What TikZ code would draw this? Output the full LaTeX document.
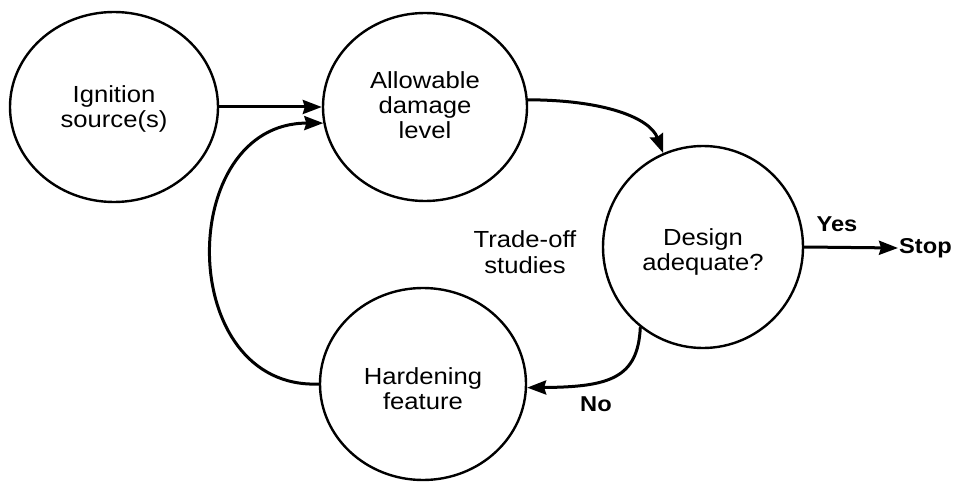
\documentclass[tikz,border=0pt]{standalone}
\usepackage{fontspec}
\setmainfont{Liberation Sans}[FakeStretch=1.1]
\usetikzlibrary{shapes.geometric,arrows.meta}
\newcommand\lowtext[2]{\raisebox{-#1}[\height][\depth]{\begin{tabular}{@{}c@{}}#2\end{tabular}}}
\begin{document}
\begin{tikzpicture}[x=1pt,y=-1pt,
  bubble/.style={draw, ellipse, line width=2.4pt, inner sep=0pt, align=center,
    font=\fontsize{23.3}{25}\selectfont},
  arr/.style={line width=3pt, -{Stealth[length=19pt,width=14pt,inset=2pt]}},
  lbl/.style={font=\fontsize{21.5}{24}\selectfont\bfseries, inner sep=1pt},
  plain/.style={font=\fontsize{23.3}{26}\selectfont, align=center, inner sep=0pt}]
\useasboundingbox (0,0) rectangle (956,484);
\node[bubble, minimum width=208pt, minimum height=190pt] (ign) at (114,107) {\lowtext{3pt}{Ignition\\source(s)}};
\node[bubble, minimum width=204pt, minimum height=188pt] (allow) at (425,107) {\lowtext{2pt}{Allowable\\damage\\level}};
\node[bubble, minimum width=200pt, minimum height=202pt] (design) at (703,247) {\lowtext{6pt}{Design\\adequate?}};
\node[bubble, minimum width=206pt, minimum height=192pt] (hard) at (423,384) {\lowtext{8pt}{Hardening\\feature}};
\node[plain] (trade) at (525,252) {Trade-off\\studies};
\node[lbl, anchor=west] (stop) at (898,248) {Stop};
\node[lbl] (yes) at (837,224) {Yes};
\node[lbl] (no) at (596,404) {No};
\draw[arr] (ign.east) -- (allow.west);
\draw[arr] (hard.west) .. controls (175,390) and (175,123) .. (allow.189);
\draw[arr] (allow.4) .. controls (605,100) and (650,118) .. (design.113);
\draw[arr] (design.232) .. controls (638,378) and (610,387) .. (hard.358);
\draw[arr] (design.east) -- (stop.west);
\end{tikzpicture}
\end{document}
